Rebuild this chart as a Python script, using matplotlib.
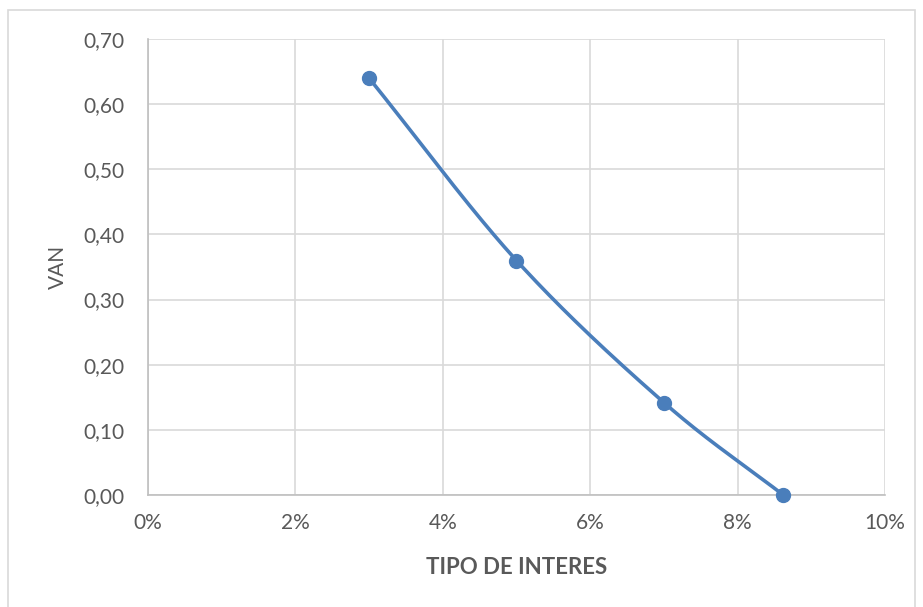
import numpy as np
import matplotlib
matplotlib.use("Agg")
import matplotlib.pyplot as plt
from matplotlib.ticker import FuncFormatter

# Interest rate vs. net present value
tipo_interes = [0.03, 0.05, 0.07, 0.0862]
van = [0.64, 0.36, 0.142, 0.0]

x_ticks = [0.0, 0.02, 0.04, 0.06, 0.08, 0.10]
y_ticks = [0.0, 0.1, 0.2, 0.3, 0.4, 0.5, 0.6, 0.7]

plt.rcParams['font.family'] = ['Lato', 'DejaVu Sans']

fig = plt.figure(figsize=(9.23, 6.07), dpi=100)
ax = fig.add_axes([0.1603, 0.1845, 0.9588 - 0.1603, 0.9357 - 0.1845])

# Outer chart frame
frame = plt.Rectangle((8 / 923, -0.05), (915 - 8) / 923, 1 - 10 / 607 + 0.05,
                      transform=fig.transFigure, fill=False,
                      edgecolor='#d9d9d9', linewidth=1.2)
fig.add_artist(frame)


def catmull_rom(xs, ys, n=60):
    xs = np.asarray(xs, float)
    ys = np.asarray(ys, float)
    px = np.concatenate([[2 * xs[0] - xs[1]], xs, [2 * xs[-1] - xs[-2]]])
    py = np.concatenate([[2 * ys[0] - ys[1]], ys, [2 * ys[-1] - ys[-2]]])
    out_x, out_y = [], []
    for i in range(1, len(px) - 2):
        t = np.linspace(0, 1, n)
        for arr, out in ((px, out_x), (py, out_y)):
            p0, p1, p2, p3 = arr[i - 1], arr[i], arr[i + 1], arr[i + 2]
            out.extend(0.5 * ((2 * p1) + (-p0 + p2) * t
                              + (2 * p0 - 5 * p1 + 4 * p2 - p3) * t ** 2
                              + (-p0 + 3 * p1 - 3 * p2 + p3) * t ** 3))
    return np.array(out_x), np.array(out_y)


sx, sy = catmull_rom(tipo_interes, van)
blue = '#4a7ebb'
ax.plot(sx, sy, color=blue, linewidth=2.6, solid_capstyle='round', zorder=3)
ax.plot(tipo_interes, van, 'o', color=blue, markersize=10, zorder=4, clip_on=False)

ax.set_xlim(0, 0.10)
ax.set_ylim(0, 0.70)
ax.set_xticks(x_ticks)
ax.set_yticks(y_ticks)
ax.xaxis.set_major_formatter(FuncFormatter(lambda v, p: f"{v * 100:.0f}%"))
ax.yaxis.set_major_formatter(FuncFormatter(lambda v, p: f"{v:.2f}".replace('.', ',')))

ax.grid(True, color='#d9d9d9', linewidth=1.2)
ax.set_axisbelow(True)
for side in ('top', 'right'):
    ax.spines[side].set_visible(False)
for side in ('left', 'bottom'):
    ax.spines[side].set_color('#bfbfbf')
    ax.spines[side].set_linewidth(1.2)
ax.tick_params(length=0, labelsize=15, colors='#595959')
ax.tick_params(axis='y', pad=17)
ax.tick_params(axis='x', pad=13)

ax.set_xlabel('TIPO DE INTERES', fontsize=16, fontweight='bold', color='#595959', labelpad=17)
ax.set_ylabel('VAN', fontsize=15, color='#595959', labelpad=11)

fig.savefig('out.png', dpi=100, facecolor='white')
